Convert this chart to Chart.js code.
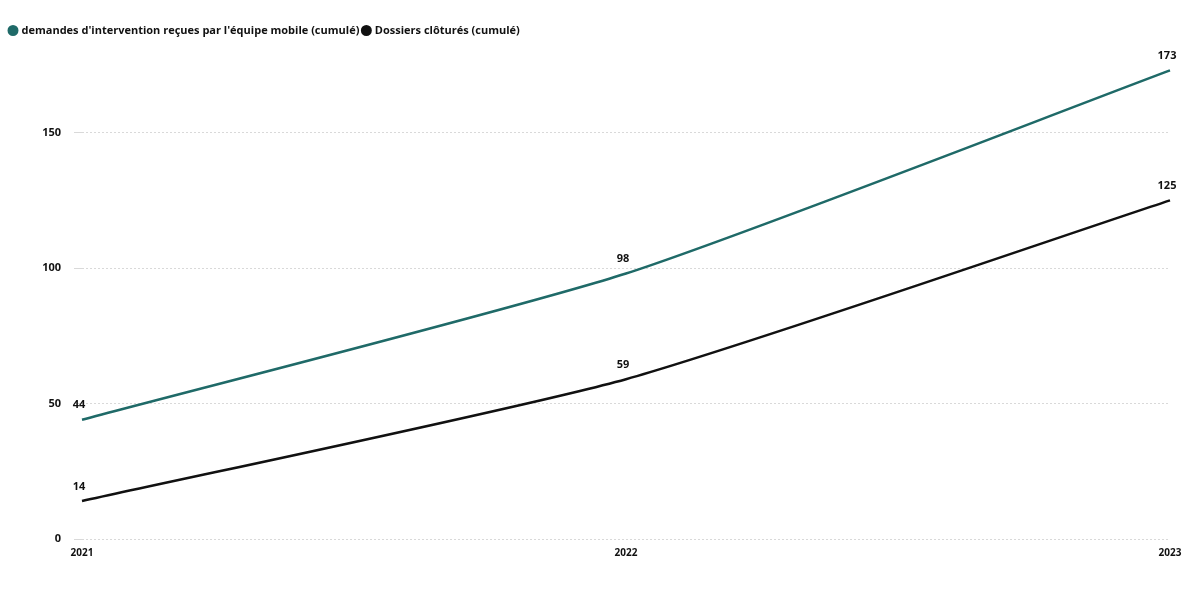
<!DOCTYPE html>
<html lang="fr">
<head>
    <meta charset="UTF-8">
    <title>Demandes d'intervention</title>
    <script src="https://cdn.jsdelivr.net/npm/chart.js"></script>
    <style>
        html, body { margin: 0; padding: 0; background: #fff; }
        .chart-container { width: 1185px; height: 606px; position: relative; }
    </style>
</head>
<body>
    <div class="chart-container">
        <canvas id="lineChart"></canvas>
    </div>

    <script>
        const years = ['2021', '2022', '2023'];
        const demandes = [44, 98, 173];
        const clotures = [14, 59, 125];
        const yTicks = [0, 50, 100, 150];

        const teal = '#1f6a68';
        const fontFamily = '"Open Sans", "Noto Sans", sans-serif';

        // simple value labels above each point
        const pointLabels = {
            id: 'pointLabels',
            afterDatasetsDraw(chart) {
                const ctx = chart.ctx;
                ctx.save();
                ctx.font = 'bold 11px ' + fontFamily;
                ctx.fillStyle = '#111';
                ctx.textAlign = 'center';
                ctx.textBaseline = 'bottom';
                chart.data.datasets.forEach((ds, i) => {
                    chart.getDatasetMeta(i).data.forEach((pt, j) => {
                        ctx.fillText(ds.data[j], pt.x - 3, pt.y - 9);
                    });
                });
                ctx.restore();
            }
        };

        new Chart(document.getElementById('lineChart'), {
            type: 'line',
            data: {
                labels: years,
                datasets: [{
                    label: "demandes d'intervention reçues par l'équipe mobile (cumulé)",
                    data: demandes,
                    borderColor: teal,
                    backgroundColor: teal,
                    borderWidth: 2.5,
                    pointRadius: 0,
                    tension: 0.2
                }, {
                    label: 'Dossiers clôturés (cumulé)',
                    data: clotures,
                    borderColor: '#111',
                    backgroundColor: '#111',
                    borderWidth: 2.5,
                    pointRadius: 0,
                    tension: 0.2
                }]
            },
            options: {
                responsive: true,
                maintainAspectRatio: false,
                animation: false,
                layout: { padding: { left: 6, right: 15, top: 21, bottom: 47 } },
                plugins: {
                    legend: {
                        position: 'top',
                        align: 'start',
                        labels: {
                            usePointStyle: true,
                            pointStyle: 'circle',
                            boxWidth: 6,
                            boxHeight: 6,
                            padding: 4,
                            color: '#111',
                            font: { family: fontFamily, size: 11, weight: 'bold' }
                        }
                    },
                    tooltip: { enabled: false }
                },
                scales: {
                    x: {
                        offset: false,
                        grid: { display: false },
                        border: { display: false },
                        ticks: {
                            color: '#111',
                            padding: 0,
                            maxRotation: 0,
                            font: { family: fontFamily, size: 10, weight: 'bold' }
                        }
                    },
                    y: {
                        min: 0,
                        max: 182,
                        afterBuildTicks: (scale) => { scale.ticks = yTicks.map(v => ({ value: v })); },
                        afterFit: (scale) => { scale.width = 76; },
                        grid: { color: '#d9d9d9', lineWidth: 1 },
                        border: { display: false, dash: [2, 2] },
                        ticks: {
                            color: '#111',
                            padding: 13,
                            font: { family: fontFamily, size: 11, weight: 'bold' }
                        }
                    }
                }
            },
            plugins: [pointLabels]
        });
    </script>
</body>
</html>
